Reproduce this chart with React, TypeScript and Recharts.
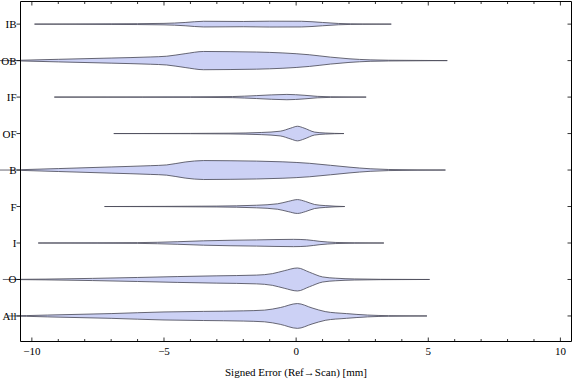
import React from "react";
import { ComposedChart, Area, XAxis, YAxis, ReferenceLine, Label } from "recharts";

// categories from bottom (1) to top (9)
const categories = ["All", "O", "I", "F", "B", "OF", "IF", "OB", "IB"];

// violin outlines: [signed error (mm), half width (category units)]
const allWidth: [number, number][] = [
  [-10.9, 0], [-10.2, 0.01], [-9.4, 0.025], [-7, 0.065], [-5, 0.11], [-3.5, 0.125], [-2, 0.14],
  [-1.2, 0.16], [-0.6, 0.23], [0.05, 0.34], [0.6, 0.22], [1.1, 0.12], [1.9, 0.065], [2.7, 0.025],
  [3.5, 0.008], [4.95, 0],
];
const oWidth: [number, number][] = [
  [-11.1, 0], [-9.5, 0.01], [-7.7, 0.03], [-6, 0.055], [-4.5, 0.08], [-3, 0.1], [-1.5, 0.12],
  [-0.9, 0.16], [-0.45, 0.24], [0.05, 0.315], [0.5, 0.2], [1, 0.07], [1.5, 0.035], [2.2, 0.015],
  [3.2, 0.005], [5.05, 0],
];
const iWidth: [number, number][] = [
  [-9.76, 0], [-7.5, 0.005], [-6, 0.01], [-4.5, 0.035], [-3.5, 0.06], [-2.5, 0.075], [-1.5, 0.085],
  [-0.1, 0.1], [0.4, 0.088], [0.9, 0.045], [1.5, 0.015], [2.2, 0.005], [3.32, 0],
];
const fWidth: [number, number][] = [
  [-7.25, 0], [-5, 0.004], [-3, 0.012], [-1.5, 0.035], [-0.7, 0.075], [-0.3, 0.14], [0.05, 0.19],
  [0.35, 0.14], [0.7, 0.055], [1.1, 0.025], [1.84, 0],
];
const bWidth: [number, number][] = [
  [-11.3, 0], [-10.4, 0.01], [-9, 0.04], [-7, 0.085], [-5.5, 0.12], [-4.9, 0.14], [-4.2, 0.22],
  [-3.5, 0.26], [-2.5, 0.255], [-1.5, 0.245], [-0.5, 0.225], [0.5, 0.185], [1.3, 0.13], [2, 0.08],
  [2.8, 0.035], [3.5, 0.015], [5.65, 0],
];
const ofWidth: [number, number][] = [
  [-6.9, 0], [-4, 0.004], [-2.5, 0.01], [-1.3, 0.03], [-0.6, 0.065], [-0.2, 0.15], [0.05, 0.2],
  [0.3, 0.15], [0.7, 0.04], [1.1, 0.015], [1.81, 0],
];
const ifWidth: [number, number][] = [
  [-9.15, 0], [-5.8, 0.003], [-4, 0.006], [-2.4, 0.015], [-1.5, 0.04], [-0.35, 0.073], [0.3, 0.05],
  [0.8, 0.02], [1.3, 0.008], [2.65, 0],
];
const obWidth: [number, number][] = [
  [-11.3, 0], [-10.4, 0.01], [-9, 0.035], [-7, 0.07], [-5.5, 0.1], [-4.9, 0.12], [-4.2, 0.19],
  [-3.5, 0.25], [-2.5, 0.245], [-1.5, 0.235], [-0.5, 0.21], [0.5, 0.16], [1.3, 0.095], [2, 0.05],
  [2.8, 0.02], [3.5, 0.01], [5.72, 0],
];
const ibWidth: [number, number][] = [
  [-9.9, 0], [-7, 0.008], [-5, 0.02], [-4.2, 0.045], [-3.5, 0.078], [-2, 0.072], [-1, 0.08],
  [0.2, 0.078], [1, 0.045], [1.6, 0.018], [2.5, 0.004], [3.6, 0],
];

const profiles = [allWidth, oWidth, iWidth, fWidth, bWidth, ofWidth, ifWidth, obWidth, ibWidth];

const xTicks = [-10, -9, -8, -7, -6, -5, -4, -3, -2, -1, 0, 1, 2, 3, 4, 5, 6, 7, 8, 9, 10];
const yTicks = [1, 2, 3, 4, 5, 6, 7, 8, 9];
const xDomain: [number, number] = [-10.43, 10.42];
const yDomain: [number, number] = [0.3, 9.62];

const FONT = "'Liberation Serif', 'Times New Roman', serif";

// one row per x value, each violin gives [low, high] where it is defined
const rowMap = new Map<number, any>();
profiles.forEach((prof, i) => {
  prof.forEach(([x, h]) => {
    if (!rowMap.has(x)) rowMap.set(x, { x });
    rowMap.get(x)[categories[i]] = [i + 1 - h, i + 1 + h];
  });
});
const tableData = Array.from(rowMap.values()).sort((a, b) => a.x - b.x);

const fmt = (v: number) => (v < 0 ? `\u2212${Math.abs(v)}` : String(v));

const BottomTick = (props: any) => {
  const { x, y, payload } = props;
  const major = payload.value % 5 === 0;
  return (
    <g>
      <line x1={x} y1={y} x2={x} y2={y - (major ? 4 : 2.5)} stroke="#000" strokeWidth={0.8} />
      {major && (
        <text x={x} y={y + 13} textAnchor="middle" fontFamily={FONT} fontSize={11} fill="#000">
          {fmt(payload.value)}
        </text>
      )}
    </g>
  );
};

const TopTick = (props: any) => {
  const { x, y, payload } = props;
  const major = payload.value % 5 === 0;
  return <line x1={x} y1={y} x2={x} y2={y + (major ? 4 : 2.5)} stroke="#000" strokeWidth={0.8} />;
};

const LeftTick = (props: any) => {
  const { x, y, payload } = props;
  return (
    <g>
      <line x1={x - 4} y1={y} x2={x} y2={y} stroke="#000" strokeWidth={0.8} />
      <text x={x - 4} y={y + 4} textAnchor="end" fontFamily={FONT} fontSize={11} fill="#000">
        {categories[payload.value - 1]}
      </text>
    </g>
  );
};

const RightTick = (props: any) => {
  const { x, y } = props;
  return <line x1={x - 4} y1={y} x2={x} y2={y} stroke="#000" strokeWidth={0.8} />;
};

const App = () => {
  return (
    <div style={{ position: "absolute", left: 0, top: 0, width: 576, height: 381, background: "#fff" }}>
      <ComposedChart width={576} height={381} data={tableData} margin={{ top: 0.5, right: 0, bottom: 0, left: 0.5 }}>
        <XAxis
          xAxisId="b"
          type="number"
          dataKey="x"
          domain={xDomain}
          allowDataOverflow
          ticks={xTicks}
          interval={0}
          tickSize={0}
          tickMargin={0}
          height={39.5}
          tick={<BottomTick />}
          axisLine={{ stroke: "#000" }}
        >
          <Label
            value="Signed Error (Ref→Scan) [mm]"
            position="insideBottom"
            offset={5}
            style={{ fontFamily: FONT, fontSize: 11, fill: "#000" }}
          />
        </XAxis>
        <XAxis
          xAxisId="t"
          orientation="top"
          type="number"
          dataKey="x"
          domain={xDomain}
          allowDataOverflow
          ticks={xTicks}
          interval={0}
          tickSize={0}
          tickMargin={0}
          height={1}
          tick={<TopTick />}
          axisLine={{ stroke: "#000" }}
        />
        <YAxis
          yAxisId="l"
          type="number"
          domain={yDomain}
          allowDataOverflow
          ticks={yTicks}
          interval={0}
          tickSize={0}
          tickMargin={0}
          width={20}
          tick={<LeftTick />}
          axisLine={{ stroke: "#000" }}
        />
        <YAxis
          yAxisId="r"
          orientation="right"
          type="number"
          domain={yDomain}
          allowDataOverflow
          ticks={yTicks}
          interval={0}
          tickSize={0}
          tickMargin={0}
          width={4.5}
          tick={<RightTick />}
          axisLine={{ stroke: "#000" }}
        />
        {categories.map((name) => (
          <Area
            key={name}
            xAxisId="b"
            yAxisId="l"
            dataKey={name}
            type="monotone"
            connectNulls
            fill="#ccd1f5"
            fillOpacity={1}
            stroke="#4d4d5c"
            strokeOpacity={0.85}
            strokeWidth={1}
            dot={false}
            activeDot={false}
            isAnimationActive={false}
          />
        ))}
        {profiles.map((prof, i) =>
          prof[0][0] < xDomain[0] ? (
            <ReferenceLine
              key={`over-${i}`}
              xAxisId="b"
              yAxisId="l"
              ifOverflow="visible"
              segment={[
                { x: prof[0][0], y: i + 1 },
                { x: xDomain[0], y: i + 1 },
              ]}
              stroke="#4d4d5c"
              strokeOpacity={0.85}
            />
          ) : null
        )}
      </ComposedChart>
    </div>
  );
};

export default App;
